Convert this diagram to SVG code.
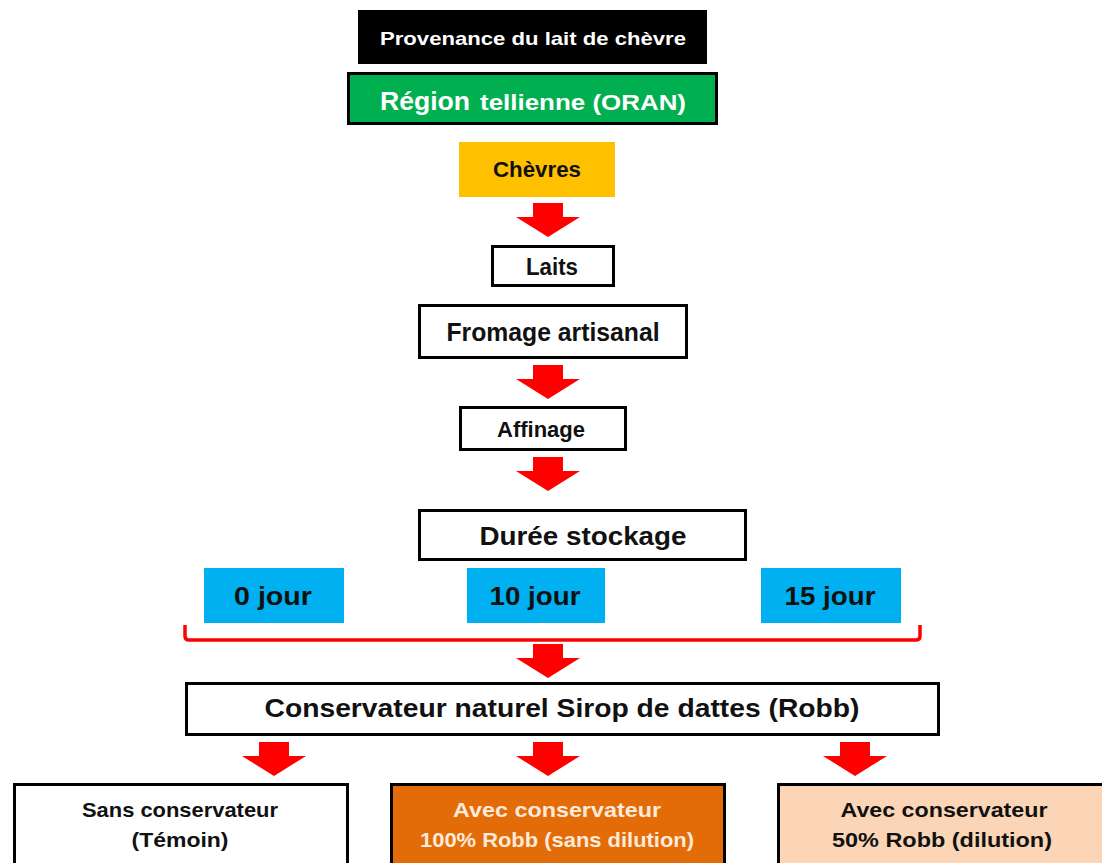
<svg xmlns="http://www.w3.org/2000/svg" width="1102" height="863" viewBox="0 0 1102 863">
<defs>
<style>
text{font-family:"Liberation Sans",Arial,sans-serif;font-weight:bold;fill:#111;}
.c{text-anchor:middle;}
.box{stroke:#000;stroke-width:3;}
.arr{fill:#ff0000;}
</style>
<path id="arrow" d="M-15,0 H15 V14 H32 L0,34 L-32,14 H-15 Z"/>
</defs>
<rect width="1102" height="863" fill="#fff"/>
<g id="provenance">
<rect x="358" y="10" width="349" height="54" fill="#000"/>
<text x="533" y="45" class="c" font-size="19" textLength="306" lengthAdjust="spacingAndGlyphs" style="fill:#fff">Provenance du lait de chèvre</text>
</g>
<g id="region">
<rect x="348.5" y="73.5" width="368" height="50" fill="#00b050" class="box"/>
<text x="380" y="110" font-size="26" textLength="90" lengthAdjust="spacingAndGlyphs" style="fill:#fff">Région</text>
<text x="480" y="110" font-size="22" textLength="206" lengthAdjust="spacingAndGlyphs" style="fill:#fff">tellienne (ORAN)</text>
</g>
<g id="chevres">
<rect x="459" y="142" width="156" height="55" fill="#ffc000"/>
<text x="537" y="177" class="c" font-size="22" textLength="88" lengthAdjust="spacingAndGlyphs">Chèvres</text>
</g>
<g id="laits">
<rect x="492.5" y="246.5" width="121" height="39" fill="#fff" class="box"/>
<text x="552" y="275" class="c" font-size="23" textLength="52" lengthAdjust="spacingAndGlyphs">Laits</text>
</g>
<g id="fromage">
<rect x="419.5" y="305.5" width="267" height="52" fill="#fff" class="box"/>
<text x="553" y="341" class="c" font-size="25" textLength="213" lengthAdjust="spacingAndGlyphs">Fromage artisanal</text>
</g>
<g id="affinage">
<rect x="460.5" y="407.5" width="165" height="42" fill="#fff" class="box"/>
<text x="541" y="437" class="c" font-size="22" textLength="88" lengthAdjust="spacingAndGlyphs">Affinage</text>
</g>
<g id="duree">
<rect x="419.5" y="510.5" width="326" height="49" fill="#fff" class="box"/>
<text x="583" y="545" class="c" font-size="25" textLength="207" lengthAdjust="spacingAndGlyphs">Durée stockage</text>
</g>
<g id="jour0">
<rect x="204" y="568" width="140" height="55" fill="#00b0f0"/>
<text x="273" y="605" class="c" font-size="26" textLength="78" lengthAdjust="spacingAndGlyphs">0 jour</text>
</g>
<g id="jour10">
<rect x="467" y="568" width="138" height="55" fill="#00b0f0"/>
<text x="535" y="605" class="c" font-size="26" textLength="91" lengthAdjust="spacingAndGlyphs">10 jour</text>
</g>
<g id="jour15">
<rect x="761" y="568" width="140" height="55" fill="#00b0f0"/>
<text x="830" y="605" class="c" font-size="26" textLength="91" lengthAdjust="spacingAndGlyphs">15 jour</text>
</g>
<g id="conservateur">
<rect x="186.5" y="683.5" width="752" height="51" fill="#fff" class="box"/>
<text x="562" y="717" class="c" font-size="25" textLength="595" lengthAdjust="spacingAndGlyphs">Conservateur naturel Sirop de dattes (Robb)</text>
</g>
<g id="temoin">
<rect x="14.5" y="784.5" width="333" height="90" fill="#fff" class="box"/>
<text x="180" y="817" class="c" font-size="21" textLength="196" lengthAdjust="spacingAndGlyphs">Sans conservateur</text>
<text x="180" y="847" class="c" font-size="21" textLength="97" lengthAdjust="spacingAndGlyphs">(Témoin)</text>
</g>
<g id="robb100">
<rect x="391.5" y="784.5" width="333" height="90" fill="#e36c09" class="box"/>
<text x="557" y="817" class="c" font-size="21" textLength="208" lengthAdjust="spacingAndGlyphs" style="fill:#fdeada">Avec conservateur</text>
<text x="557" y="847" class="c" font-size="21" textLength="274" lengthAdjust="spacingAndGlyphs" style="fill:#fdeada">100% Robb (sans dilution)</text>
</g>
<g id="robb50">
<rect x="778.5" y="784.5" width="330" height="90" fill="#fbd5b5" class="box"/>
<text x="944" y="817" class="c" font-size="21" textLength="207" lengthAdjust="spacingAndGlyphs">Avec conservateur</text>
<text x="942" y="847" class="c" font-size="21" textLength="220" lengthAdjust="spacingAndGlyphs">50% Robb (dilution)</text>
</g>
<g id="connectors">
<use href="#arrow" class="arr" x="548" y="203"/>
<use href="#arrow" class="arr" x="548" y="365"/>
<use href="#arrow" class="arr" x="548" y="457"/>
<path d="M185,625 V636 Q185,640 189,640 H916 Q920,640 920,636 V625" fill="none" stroke="#ff0000" stroke-width="3.5"/>
<use href="#arrow" class="arr" x="548" y="644"/>
<use href="#arrow" class="arr" x="274" y="742"/>
<use href="#arrow" class="arr" x="548" y="742"/>
<use href="#arrow" class="arr" x="855" y="742"/>
</g>
</svg>
